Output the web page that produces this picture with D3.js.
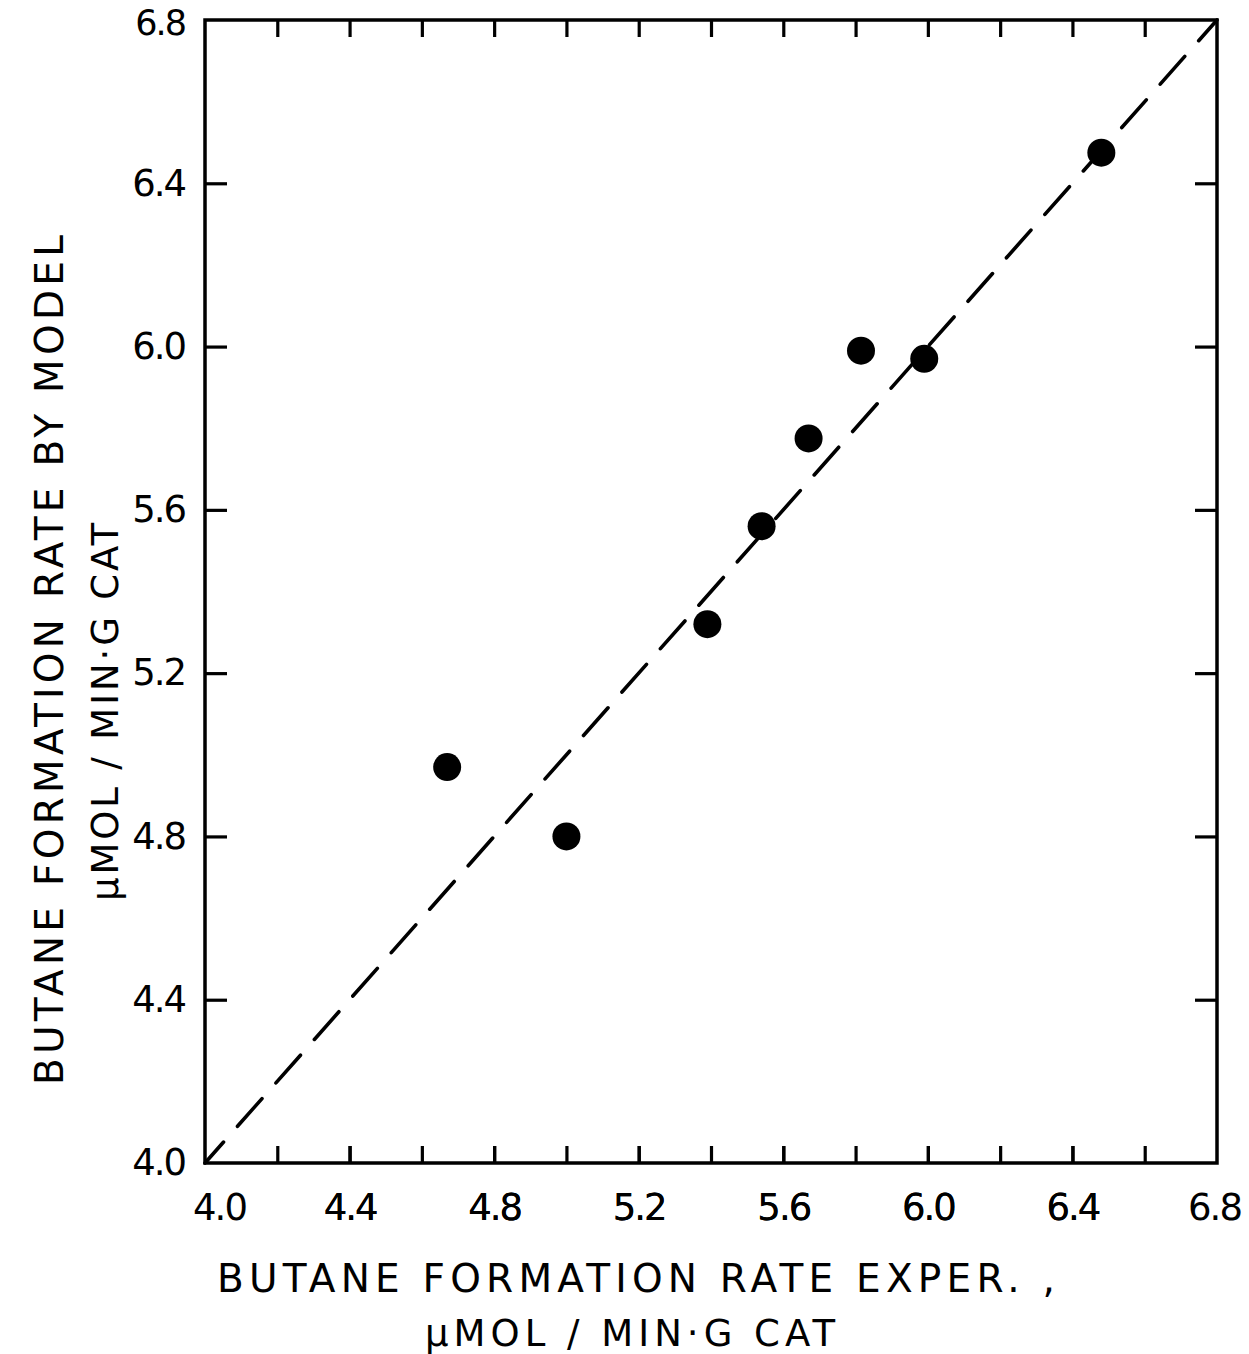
<!DOCTYPE html>
<html>
<head>
<meta charset="utf-8">
<script src="https://cdn.jsdelivr.net/npm/d3@7"></script>
<style>
  html, body { margin: 0; padding: 0; background: #fff; }
  svg { display: block; }
  text { font-family: "DejaVu Sans", sans-serif; fill: #000; }
</style>
</head>
<body>
<script>
// Butane formation rate: experimental vs. model prediction (µmol/min·g cat)
const rateExper = [4.67, 5.00, 5.39, 5.54, 5.67, 5.815, 5.99, 6.48];
const rateModel = [4.97, 4.80, 5.32, 5.56, 5.775, 5.99, 5.97, 6.475];
const parityLine = [4.0, 6.8];
const labelTicks = [4.0, 4.4, 4.8, 5.2, 5.6, 6.0, 6.4, 6.8];
const minorTicks = [4.2, 4.4, 4.6, 4.8, 5.0, 5.2, 5.4, 5.6, 5.8, 6.0, 6.2, 6.4, 6.6];
const xTitle = ["BUTANE FORMATION RATE EXPER. ,", "µMOL / MIN·G CAT"];
const yTitle = ["BUTANE FORMATION RATE  BY MODEL", "µMOL / MIN·G CAT"];

const W = 1249, H = 1354;
const m = { left: 205, top: 20, right: 32, bottom: 191 };
const iw = W - m.left - m.right, ih = H - m.top - m.bottom;

const svg = d3.select("body").append("svg").attr("width", W).attr("height", H);
svg.append("rect").attr("width", W).attr("height", H).attr("fill", "#fff");

const g = svg.append("g").attr("transform", `translate(${m.left},${m.top})`);

const x = d3.scaleLinear().domain([4.0, 6.8]).range([0, iw]);
const y = d3.scaleLinear().domain([4.0, 6.8]).range([ih, 0]);

const fmt = d3.format(".1f");

// bottom axis: inward ticks every 0.2, labels every 0.4
const xb = g.append("g").attr("transform", `translate(0,${ih})`)
  .call(d3.axisBottom(x).tickValues(labelTicks.concat(minorTicks))
    .tickSizeInner(-17).tickSizeOuter(0).tickPadding(31)
    .tickFormat(d => labelTicks.some(t => Math.abs(t - d) < 1e-9) ? fmt(d) : ""));
// top axis: inward ticks, no labels
const xt = g.append("g")
  .call(d3.axisTop(x).tickValues(minorTicks)
    .tickSizeInner(-17).tickSizeOuter(0).tickFormat(""));
// left axis: inward ticks every 0.4 with labels
const yl = g.append("g")
  .call(d3.axisLeft(y).tickValues(labelTicks)
    .tickSizeInner(-22).tickSizeOuter(0).tickPadding(20).tickFormat(fmt));
// right axis: inward ticks only
const yr = g.append("g").attr("transform", `translate(${iw},0)`)
  .call(d3.axisRight(y).tickValues(labelTicks.slice(1, -1))
    .tickSizeInner(-22).tickSizeOuter(0).tickFormat(""));

[xb, xt, yl, yr].forEach(a => {
  a.select(".domain").remove();
  a.selectAll(".tick line").attr("stroke", "#000").attr("stroke-width", 3.2);
  a.selectAll(".tick text").attr("font-size", 37).attr("letter-spacing", -2)
    .attr("font-family", "DejaVu Sans").attr("fill", "#000");
});
// corner ticks coincide with the frame
xb.selectAll(".tick").filter(d => d === 4.0 || d === 6.8).select("line").remove();
yl.selectAll(".tick").filter(d => d === 4.0 || d === 6.8).select("line").remove();
// nudge the corner labels clear of the frame corner and page edge
xb.selectAll(".tick").filter(d => d === 4.0).select("text").attr("dx", 14);
xb.selectAll(".tick").filter(d => d === 6.8).select("text").attr("dx", -3);
yl.selectAll(".tick").filter(d => d === 6.8).select("text").attr("font-size", 35).attr("dy", "0.42em");

// frame
g.append("rect").attr("width", iw).attr("height", ih)
  .attr("fill", "none").attr("stroke", "#000").attr("stroke-width", 3.5);

// parity line y = x
g.append("path")
  .datum(parityLine)
  .attr("d", d3.line().x(d => x(d)).y(d => y(d)))
  .attr("fill", "none").attr("stroke", "#000").attr("stroke-width", 3.6)
  .attr("stroke-dasharray", "37,21").attr("stroke-dashoffset", 9)
  .attr("stroke-linecap", "round");

// data points
g.selectAll("circle.pt")
  .data(rateExper.map((v, i) => [v, rateModel[i]]))
  .join("circle").attr("class", "pt")
  .attr("cx", d => x(d[0])).attr("cy", d => y(d[1]))
  .attr("r", 14).attr("fill", "#000");

// x-axis title
svg.append("text").attr("x", 636).attr("y", 1292)
  .attr("text-anchor", "middle").attr("font-size", 39)
  .attr("textLength", 838).attr("lengthAdjust", "spacing")
  .text(xTitle[0]);
svg.append("text").attr("x", 630).attr("y", 1346)
  .attr("text-anchor", "middle").attr("font-size", 37)
  .attr("textLength", 410).attr("lengthAdjust", "spacing")
  .text(xTitle[1]);

// y-axis title (rotated)
svg.append("text").attr("transform", "translate(63,660) rotate(-90)")
  .attr("text-anchor", "middle").attr("font-size", 39)
  .attr("textLength", 850).attr("lengthAdjust", "spacing")
  .text(yTitle[0]);
svg.append("text").attr("transform", "translate(118,712) rotate(-90)")
  .attr("text-anchor", "middle").attr("font-size", 37)
  .attr("textLength", 378).attr("lengthAdjust", "spacing")
  .text(yTitle[1]);
</script>
</body>
</html>
